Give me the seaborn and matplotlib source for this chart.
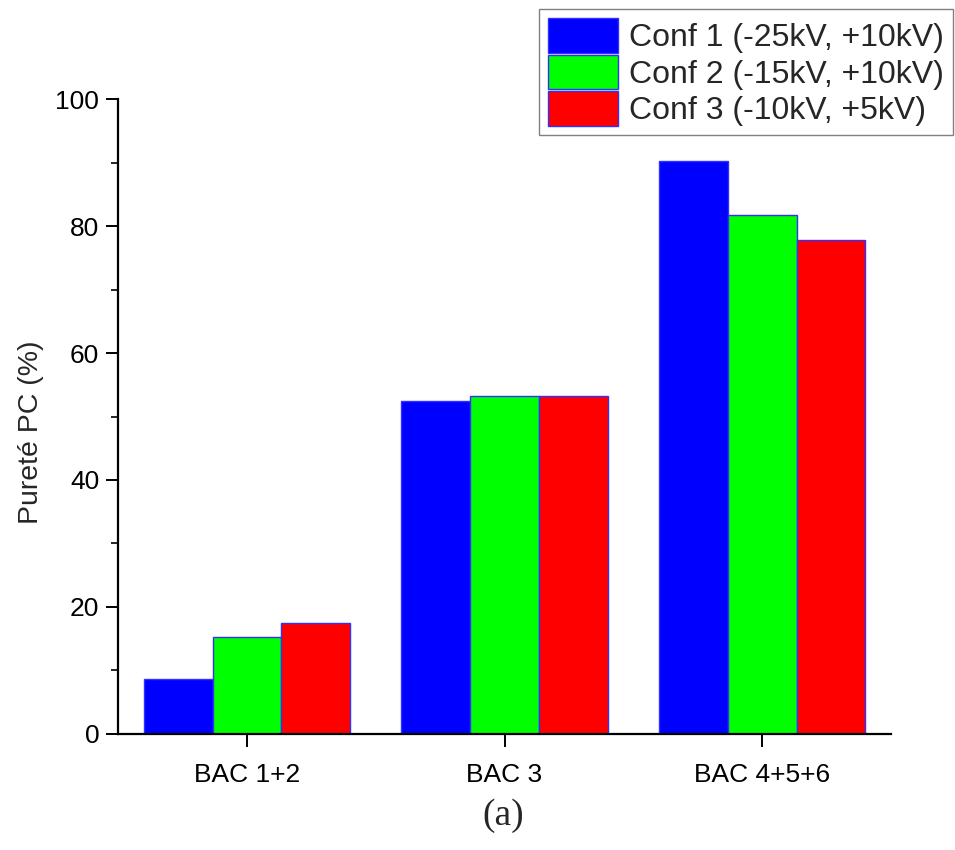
import matplotlib
matplotlib.use("Agg")
import matplotlib.pyplot as plt
from matplotlib.ticker import MultipleLocator
import seaborn as sns
import pandas as pd

# Data: purity of PC per collection bin for three electrode configurations
bins = ["BAC 1+2", "BAC 3", "BAC 4+5+6"]
configs = ["Conf 1 (-25kV, +10kV)", "Conf 2 (-15kV, +10kV)", "Conf 3 (-10kV, +5kV)"]
conf1 = [8.7, 52.5, 90.2]
conf2 = [15.2, 53.3, 81.7]
conf3 = [17.5, 53.3, 77.8]
colors = ["#0000ff", "#00ff00", "#ff0000"]

df = pd.DataFrame({
    "bac": bins * 3,
    "conf": [configs[0]] * 3 + [configs[1]] * 3 + [configs[2]] * 3,
    "purete": conf1 + conf2 + conf3,
})

sns.set_theme(style="ticks")
plt.rcParams["font.family"] = ["Liberation Sans", "DejaVu Sans"]

fig = plt.figure(figsize=(9.55, 8.5), dpi=100)
ax = fig.add_axes([0.1236, 0.1365, 0.933 - 0.1236, 0.8835 - 0.1365])

sns.barplot(data=df, x="bac", y="purete", hue="conf", hue_order=configs,
            palette=colors, width=0.8, edgecolor="#3030ff", linewidth=1.0,
            saturation=1.0, ax=ax, legend=True)

ax.set_xlim(-0.5, 2.5)
ax.set_ylim(0, 100)
ax.yaxis.set_major_locator(MultipleLocator(20))
ax.yaxis.set_minor_locator(MultipleLocator(10))
ax.set_xlabel("")
ax.set_ylabel("Pureté PC (%)", fontsize=20.5)
ax.yaxis.set_label_coords(-0.096, 0.475)

for side in ("top", "right"):
    ax.spines[side].set_visible(False)
for side in ("left", "bottom"):
    ax.spines[side].set_linewidth(1.6)
    ax.spines[side].set_color("black")

ax.tick_params(axis="y", which="major", direction="out", length=8.5, width=1.4,
               labelsize=19, colors="black", pad=5)
ax.tick_params(axis="y", which="minor", direction="out", length=5, width=1.2,
               colors="black")
ax.tick_params(axis="x", which="major", direction="out", length=9, width=1.4,
               labelsize=19, colors="black", pad=12)

# Legend in the top-right corner of the figure
handles, labels = ax.get_legend_handles_labels()
ax.get_legend().remove()
leg = fig.legend(handles, labels, loc="upper right",
                 bbox_to_anchor=(953 / 955, 1 - 9 / 850),
                 bbox_transform=fig.transFigure,
                 fontsize=23, frameon=True, fancybox=False,
                 edgecolor="#808080", framealpha=1.0,
                 handlelength=2.2, handleheight=1.3,
                 handletextpad=0.35, labelspacing=0.05,
                 borderpad=0.28, borderaxespad=0)
leg.get_frame().set_linewidth(1.0)

fig.text(503 / 955, 1 - 816 / 850, "(a)", ha="center", va="center",
         fontsize=27, family=["Liberation Serif", "DejaVu Serif"])

fig.savefig("out.png", dpi=100, facecolor="white")
